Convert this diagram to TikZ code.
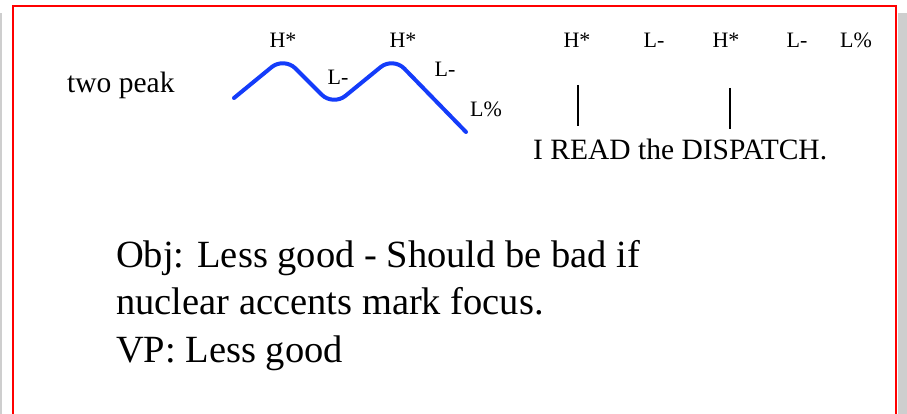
\documentclass[tikz,border=0pt]{standalone}
\usepackage{fontspec}
\setmainfont{Liberation Serif}
\definecolor{curveblue}{RGB}{20,60,250}
\definecolor{sidegray}{RGB}{206,206,206}
\begin{document}
\begin{tikzpicture}[x=1pt,y=-1pt,
  lbl/.style={inner sep=0pt,anchor=base,font=\fontsize{22}{26}\selectfont},
  mid/.style={inner sep=0pt,font=\fontsize{29.5}{34}\selectfont},
  big/.style={inner sep=0pt,anchor=base west,font=\fontsize{38.5}{45}\selectfont},
  frame/.style={draw=red,line width=2pt},
  tone/.style={draw=curveblue,line width=4pt,line cap=round,rounded corners=16pt},
  stem/.style={draw=black,line width=1.8pt}]
\useasboundingbox (0,0) rectangle (907,414);
% side strips
\fill[sidegray] (0,13) rectangle (2,414);
\fill[sidegray] (898,13) rectangle (907,414);
% frame
\draw[frame] (13,414) -- (13,6) -- (896,6) -- (896,414);
% left part
\node[mid,anchor=base west] (two) at (67,93) {two peak};
\draw[tone] (234,98) -- (284,57) -- (333,106) -- (393,57) -- (466,132);
\node[lbl] (h1) at (283,48) {H*};
\node[lbl] (h2) at (403,48) {H*};
\node[lbl] (l1) at (338,85) {L-};
\node[lbl] (l2) at (445,77) {L-};
\node[lbl] (l3) at (486,117) {L\%};
% right part
\node[lbl] (rh1) at (577,48) {H*};
\node[lbl] (rl1) at (654,48) {L-};
\node[lbl] (rh2) at (726,48) {H*};
\node[lbl] (rl2) at (797,48) {L-};
\node[lbl] (rl3) at (856,48) {L\%};
\coordinate (s1t) at (578,85);
\coordinate (s1b) at (578,126);
\coordinate (s2t) at (730,88);
\coordinate (s2b) at (730,129);
\draw[stem] (s1t) -- (s1b);
\draw[stem] (s2t) -- (s2b);
\node[mid,anchor=base west] (sent) at (533,160) {I READ the DISPATCH.};
% big text
\node[big] (obj1) at (116,267) {Obj: Less good - Should be bad if};
\node[big] (obj2) at (116,314) {nuclear accents mark focus.};
\node[big] (vp) at (116,362) {VP: Less good};
\end{tikzpicture}
\end{document}
